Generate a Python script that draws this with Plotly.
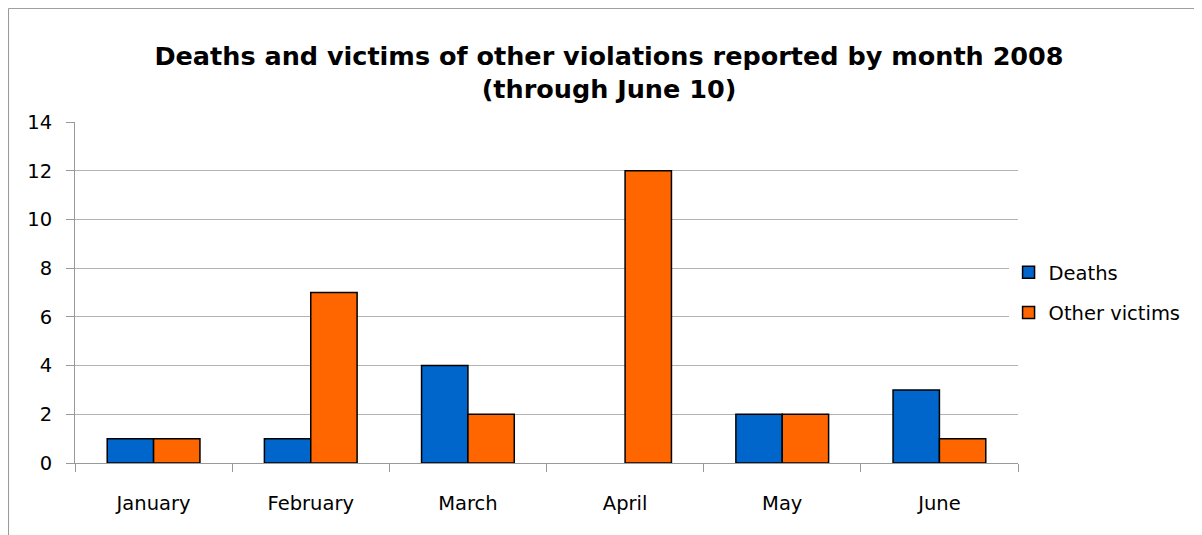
import plotly.graph_objects as go

months = ["January", "February", "March", "April", "May", "June"]
deaths = [1, 1, 4, 0, 2, 3]
other_victims = [1, 7, 2, 12, 2, 1]
y_ticks = [0, 2, 4, 6, 8, 10, 12, 14]

FONT = "'DejaVu Sans', sans-serif"

# zero-height bars get no outline (reference shows nothing for April deaths)
def outline(vals):
    return [0 if v == 0 else 1.5 for v in vals]

fig = go.Figure()
fig.add_trace(go.Bar(x=months, y=deaths, name="Deaths", legendgroup="a",
                     marker=dict(color="#0066CC", line=dict(color="black", width=outline(deaths)))))
fig.add_trace(go.Bar(x=months, y=other_victims, name="Other victims", legendgroup="b",
                     marker=dict(color="#FF6600", line=dict(color="black", width=outline(other_victims)))))

fig.update_layout(
    width=1202, height=535,
    paper_bgcolor="white", plot_bgcolor="white",
    margin=dict(l=67, r=192, t=114, b=80),
    barmode="group", bargap=0.41, bargroupgap=0,
    font=dict(family=FONT, size=19, color="black"),
    title=dict(text="<b>Deaths and victims of other violations reported by month 2008<br>(through June 10)</b>",
               x=0.5, xanchor="center", y=0.894, yanchor="top",
               font=dict(size=25.5, family=FONT)),
    legend=dict(x=0.99, xanchor="left", y=0.5, yanchor="middle",
                font=dict(size=19.5), tracegroupgap=12, traceorder="grouped"),
    showlegend=True,
)
fig.update_xaxes(showline=True, linecolor="#999999", linewidth=1,
                 ticks="outside", tickson="boundaries", ticklen=8, tickcolor="#999999",
                 showgrid=False, tickfont=dict(size=19.5), ticklabelstandoff=23)
fig.update_yaxes(range=[0, 14], tickvals=y_ticks, showline=True, linecolor="#999999", linewidth=1,
                 ticks="outside", ticklen=8, tickcolor="#999999",
                 showgrid=True, gridcolor="#B3B3B3", gridwidth=1, zeroline=False,
                 tickfont=dict(size=19.5), ticklabelstandoff=10)
# chart border: only top and left edges fall inside the window
fig.add_shape(type="rect", xref="paper", yref="paper", x0=-0.0705, x1=1.4, y0=-0.6, y1=1.333,
              line=dict(color="#999999", width=1))

fig.write_html("out.html")
